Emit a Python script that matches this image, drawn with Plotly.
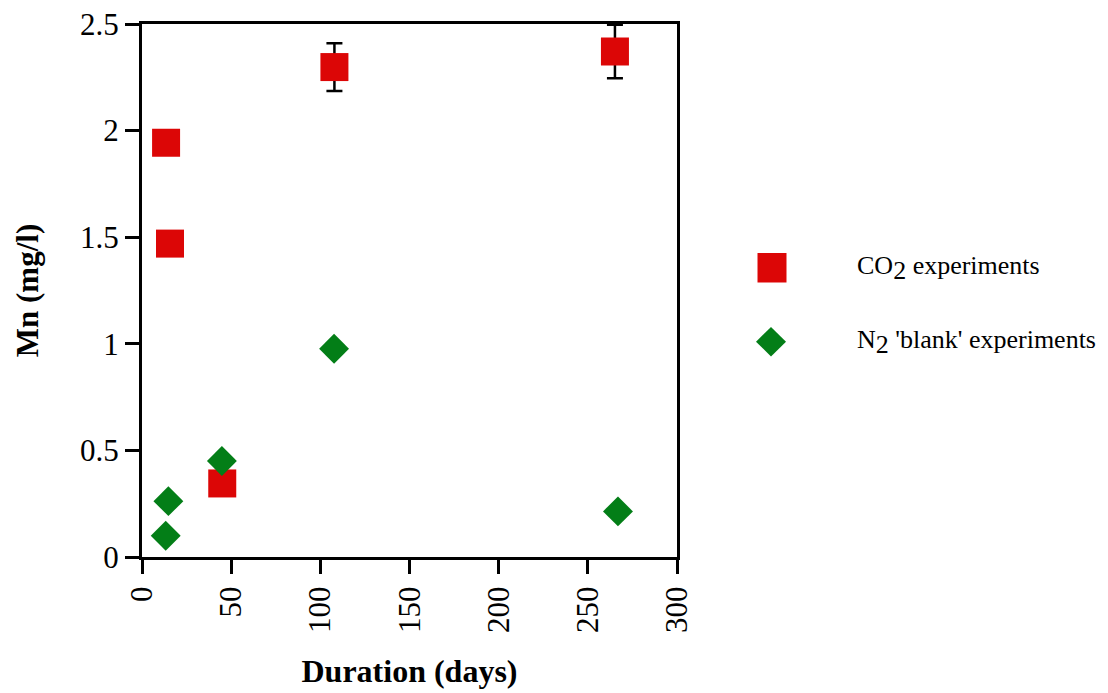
import plotly.graph_objects as go

# CO2 experiments
co2_days = [13.5, 15.7, 45.0, 107.9, 265.2]
co2_mn = [1.943, 1.47, 0.345, 2.298, 2.371]
co2_err = [0.0, 0.0, 0.0, 0.112, 0.125]

# N2 'blank' experiments
n2_days = [13.3, 14.8, 44.8, 107.7, 266.9]
n2_mn = [0.10, 0.262, 0.45, 0.977, 0.214]

x_ticks = [0, 50, 100, 150, 200, 250, 300]
y_ticks = [0, 0.5, 1, 1.5, 2, 2.5]
y_tick_labels = ["0", "0.5", "1", "1.5", "2", "2.5"]

legend_labels = [
    "CO<sub><span style='font-size:26px'>2</span></sub> experiments",
    "N<sub><span style='font-size:26px'>2</span></sub> 'blank' experiments",
]

RED = "#DC0606"
GREEN = "#037E17"
FONT = "Liberation Serif, Times New Roman, serif"

# page is offset 8px by the default body margin
W, H = 1100, 685
ML, MR, MT, MB = 134, 431, 16, 136
PW = W - ML - MR   # 535
PH = H - MT - MB   # 533


def px(xpage):
    return (xpage - 142) / PW


def py(ypage):
    return (557 - ypage) / PH


fig = go.Figure()
fig.add_trace(go.Scatter(
    x=co2_days, y=co2_mn, mode="markers", name=legend_labels[0],
    marker=dict(symbol="square", size=28, color=RED, line=dict(width=0)),
    error_y=dict(type="data", array=co2_err, visible=True, color="black",
                 thickness=2.5, width=8),
    cliponaxis=False, showlegend=False,
))
fig.add_trace(go.Scatter(
    x=n2_days, y=n2_mn, mode="markers", name=legend_labels[1],
    marker=dict(symbol="diamond", size=23, color=GREEN, line=dict(width=0)),
    cliponaxis=False, showlegend=False,
))

# legend drawn as shapes + text
shapes = [
    dict(type="rect", xref="paper", yref="paper",
         x0=px(757.5), x1=px(786.5), y0=py(282.5), y1=py(253),
         fillcolor=RED, line=dict(width=0)),
    dict(type="path", xref="paper", yref="paper",
         path=(f"M {px(756)} {py(341.7)} L {px(771)} {py(327)} "
               f"L {px(786)} {py(341.7)} L {px(771)} {py(356.4)} Z"),
         fillcolor=GREEN, line=dict(width=0)),
]
annotations = [
    dict(text=legend_labels[0], xref="paper", yref="paper",
         x=px(855), y=py(268), xanchor="left", yanchor="middle", showarrow=False,
         font=dict(family=FONT, size=26, color="black")),
    dict(text=legend_labels[1], xref="paper", yref="paper",
         x=px(855), y=py(342), xanchor="left", yanchor="middle", showarrow=False,
         font=dict(family=FONT, size=26, color="black")),
]

fig.update_layout(
    width=W, height=H,
    margin=dict(l=ML, r=MR, t=MT, b=MB),
    paper_bgcolor="white", plot_bgcolor="white",
    font=dict(family=FONT, color="black", size=24),
    showlegend=False,
    shapes=shapes,
    annotations=annotations,
    xaxis=dict(
        range=[0, 300], tickvals=x_ticks, ticktext=[str(v) for v in x_ticks],
        tickangle=-90, ticks="outside", ticklen=14, tickwidth=3, tickcolor="black",
        showline=True, linewidth=3, linecolor="black", mirror=True,
        showgrid=False, zeroline=False, automargin=False,
        ticklabeloverflow="allow",
        tickfont=dict(family=FONT, size=31, color="black"),
        title=dict(text="<b>Duration (days)</b>", font=dict(family=FONT, size=32), standoff=28),
    ),
    yaxis=dict(
        range=[0, 2.5], tickvals=y_ticks, ticktext=y_tick_labels,
        ticks="outside", ticklen=14, tickwidth=3, tickcolor="black",
        showline=True, linewidth=3, linecolor="black", mirror=True,
        showgrid=False, zeroline=False, automargin=False,
        ticklabeloverflow="allow",
        tickfont=dict(family=FONT, size=31, color="black"),
        title=dict(text="<b>Mn (mg/l)</b>", font=dict(family=FONT, size=31), standoff=33),
    ),
)

fig.write_html("out.html")
